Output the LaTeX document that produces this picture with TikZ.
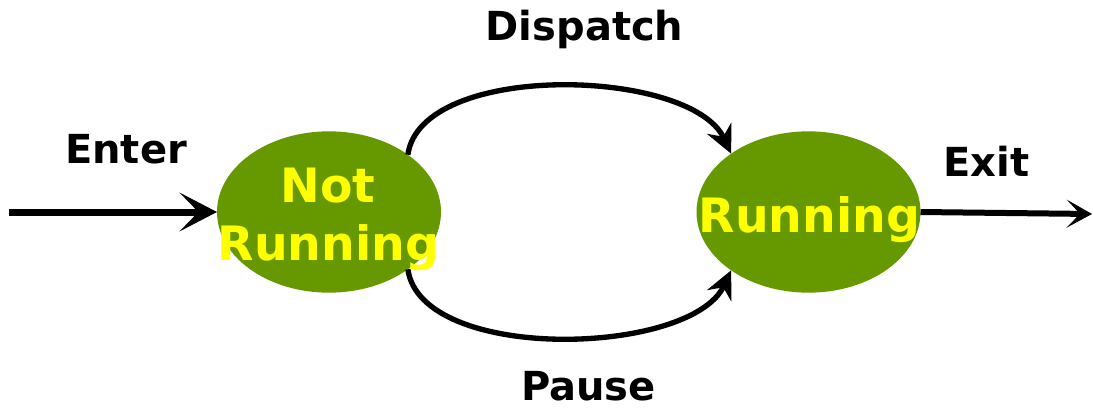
\documentclass[tikz,border=0pt]{standalone}
\usepackage{fontspec}
\setmainfont{DejaVu Sans}
\usetikzlibrary{shapes.geometric,arrows.meta}
\definecolor{stategreen}{HTML}{669900}
\definecolor{stateyellow}{HTML}{FFFF00}
\begin{document}
\begin{tikzpicture}[x=0.75pt,y=0.75pt,
  state/.style={ellipse, fill=stategreen, minimum width=168pt, minimum height=121pt, inner sep=0pt, outer sep=0pt},
  statetext/.style={anchor=base, text=stateyellow, font=\fontsize{35.5}{40}\selectfont\bfseries, inner sep=0pt},
  lbl/.style={anchor=base, font=\fontsize{30}{34}\selectfont\bfseries, inner sep=0pt},
  flow/.style={line width=4pt, -{Stealth[length=21pt,width=20pt,inset=7pt]}},
]
\useasboundingbox (0,0) rectangle (1093,412);
\node[state] (nr) at (329,200) {};
\node[state] (r) at (808.5,200) {};
\coordinate (in) at (9,200);
\coordinate (out) at (1092,198);
\draw[line width=5.25pt, -{Stealth[length=28pt,width=29pt,inset=14pt]}] (in) -- (nr.west);
\draw[line width=4.5pt, -{Stealth[length=19pt,width=21pt,inset=10pt]}] (r.east) -- (out);
\draw[flow] (nr.36) to[out=82,in=115,looseness=0.75] (r.143);
\draw[flow] (nr.-36) to[out=-82,in=-115,looseness=0.75] (r.-143);
\node[statetext] (t1) at (328,210) {Not};
\node[statetext] (t2) at (328.5,152) {Running};
\node[statetext] (t3) at (809.5,180) {Running};
\node[lbl] (enter) at (126,249) {Enter};
\node[lbl] (dispatch) at (584.5,372) {Dispatch};
\node[lbl] (pause) at (588.5,12) {Pause};
\node[lbl] (exit) at (986.5,236) {Exit};
\end{tikzpicture}
\end{document}
